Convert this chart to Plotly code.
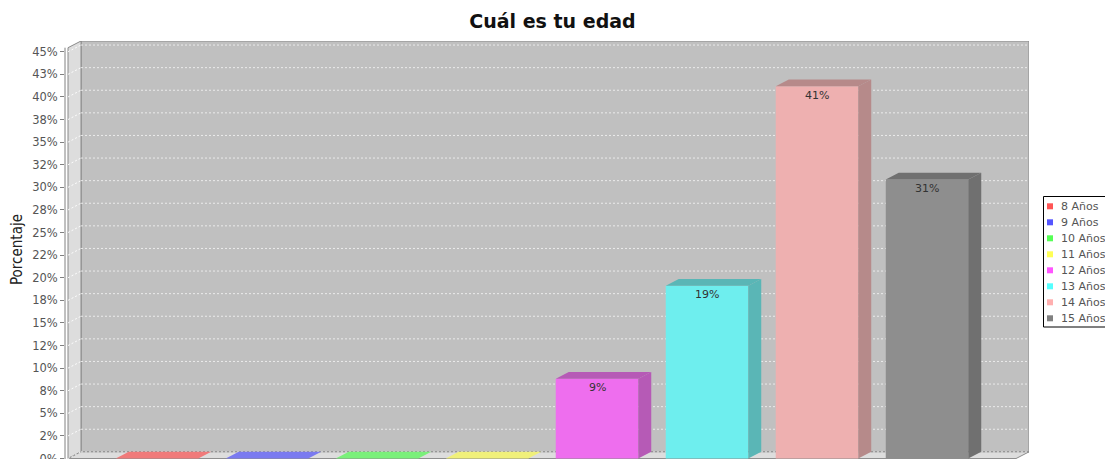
import plotly.graph_objects as go

# ---------------- data ----------------
categories = ["8 Años", "9 Años", "10 Años", "11 Años", "12 Años", "13 Años", "14 Años", "15 Años"]
percentages = [0, 0, 0, 0, 8.82, 19.12, 41.18, 30.88]
tick_values = [0, 2.5, 5, 7.5, 10, 12.5, 15, 17.5, 20, 22.5, 25, 27.5, 30, 32.5, 35, 37.5, 40, 42.5, 45]
tick_labels = ["0%", "2%", "5%", "8%", "10%", "12%", "15%", "18%", "20%", "22%", "25%",
               "28%", "30%", "32%", "35%", "38%", "40%", "43%", "45%"]
front_colors = ["#f07a7a", "#7a7af0", "#7af07a", "#f0f07a", "#ee6eee", "#6eeeee", "#eeb0b0", "#8e8e8e"]
dark_colors = ["#c46262", "#6262c4", "#62c462", "#c4c462", "#b65ab6", "#5ab6b6", "#b68a8a", "#707070"]
legend_colors = ["#ff5555", "#5555ff", "#55ff55", "#ffff55", "#ff55ff", "#55ffff", "#ffafaf", "#808080"]

# ---------------- geometry (pixels) ----------------
FIG_W, FIG_H = 1105, 459
L, R, T, B = 65, 1029, 41, 459    # plot box in pixels
PX_PER_CAT = 110.0
FIRST_CENTER_PX = 157.0
PX_PER_PCT = 9.04
DX_PX, DY_PX = 13.0, 6.7

x_range = [(L - FIRST_CENTER_PX) / PX_PER_CAT, (R - FIRST_CENTER_PX) / PX_PER_CAT]
y_range = [-0.05, (B - T) / PX_PER_PCT - 0.05]
dx = DX_PX / PX_PER_CAT
dy = DY_PX / PX_PER_PCT
xL = (68 - FIRST_CENTER_PX) / PX_PER_CAT   # front-left edge of 3D area
xR = x_range[1]
y_top = y_range[1]
bar_w = 0.75

def px_to_paper_x(px):
    return (px - L) / (R - L)

def px_to_paper_y(py):
    return (B - py) / (B - T)

fig = go.Figure()
shapes = []
WALL = "#dddddd"
EDGE = "#8a8a8a"

# back wall
shapes.append(dict(type="rect", xref="x", yref="y", x0=xL + dx, y0=dy, x1=xR, y1=y_top,
                   fillcolor="#c0c0c0", line=dict(color=EDGE, width=1), layer="below"))
# side wall
shapes.append(dict(type="path", xref="x", yref="y",
                   path=f"M{xL},0 L{xL+dx},{dy} L{xL+dx},{y_top} L{xL},{y_top-dy} Z",
                   fillcolor=WALL, line=dict(color=EDGE, width=1), layer="below"))
# floor
shapes.append(dict(type="path", xref="x", yref="y",
                   path=f"M{xL},0 L{xL+dx},{dy} L{xR},{dy} L{xR-dx},0 Z",
                   fillcolor=WALL, line=dict(color=EDGE, width=1), layer="below"))
# gridlines
for t in tick_values:
    shapes.append(dict(type="line", xref="x", yref="y", x0=xL + dx, y0=t + dy, x1=xR, y1=t + dy,
                       line=dict(color="rgba(240,240,240,0.9)", width=1, dash="2px,2px"), layer="below"))
    shapes.append(dict(type="line", xref="x", yref="y", x0=xL, y0=t, x1=xL + dx, y1=t + dy,
                       line=dict(color="rgba(255,255,255,0.9)", width=1, dash="2px,2px"), layer="below"))
# y axis line (front)
shapes.append(dict(type="line", xref="paper", yref="y", x0=0, y0=y_range[0], x1=0, y1=y_top - dy,
                   line=dict(color="#808080", width=1)))

# bars: front faces
xs = list(range(len(categories)))
fig.add_trace(go.Bar(x=xs, y=percentages, width=bar_w, marker=dict(color=front_colors, line=dict(width=0)),
                     hoverinfo="skip", showlegend=False))

# bars: top & side faces
for i, v in enumerate(percentages):
    x0 = i - bar_w / 2
    x1 = i + bar_w / 2
    top_color = front_colors[i] if v == 0 else dark_colors[i]
    fig.add_trace(go.Scatter(x=[x0, x1, x1 + dx, x0 + dx, x0], y=[v, v, v + dy, v + dy, v],
                             fill="toself", fillcolor=top_color, mode="lines", line=dict(width=0),
                             hoverinfo="skip", showlegend=False))
    if v > 0:
        fig.add_trace(go.Scatter(x=[x1, x1 + dx, x1 + dx, x1, x1], y=[0, dy, v + dy, v, 0],
                                 fill="toself", fillcolor=dark_colors[i], mode="lines", line=dict(width=0),
                                 hoverinfo="skip", showlegend=False))

annotations = []
# value labels
for i, v in enumerate(percentages):
    if v > 0:
        annotations.append(dict(x=i, y=v, xref="x", yref="y", text=f"{round(v)}%", showarrow=False,
                                yshift=-9, font=dict(family="DejaVu Sans", size=11, color="#333333")))

# manual legend
shapes.append(dict(type="rect", xref="paper", yref="paper",
                   x0=px_to_paper_x(1043.5), x1=px_to_paper_x(1115),
                   y0=px_to_paper_y(327), y1=px_to_paper_y(196.5),
                   fillcolor="white", line=dict(color="black", width=1)))
for i, (name, col) in enumerate(zip(categories, legend_colors)):
    cy = 206.3 + 16.0 * i
    shapes.append(dict(type="rect", xref="paper", yref="paper",
                       x0=px_to_paper_x(1047), x1=px_to_paper_x(1053),
                       y0=px_to_paper_y(cy + 3), y1=px_to_paper_y(cy - 3),
                       fillcolor=col, line=dict(width=0)))
    annotations.append(dict(x=px_to_paper_x(1059), y=px_to_paper_y(cy), xref="paper", yref="paper",
                            text=name, showarrow=False, xanchor="left", yanchor="middle",
                            font=dict(family="DejaVu Sans", size=11, color="#555555")))

# y axis title
annotations.append(dict(x=px_to_paper_x(17), y=px_to_paper_y(250), xref="paper", yref="paper",
                        text="Porcentaje", textangle=-90, showarrow=False,
                        xanchor="center", yanchor="middle",
                        font=dict(family="DejaVu Sans Condensed", size=15, color="#222222")))

fig.update_layout(
    width=FIG_W, height=FIG_H,
    margin=dict(l=L, r=FIG_W - R, t=T, b=FIG_H - B, autoexpand=False),
    paper_bgcolor="white", plot_bgcolor="rgba(0,0,0,0)",
    title=dict(text="<b>Cuál es tu edad</b>", x=0.5, xanchor="center",
               y=1 - 21 / FIG_H, yanchor="middle", yref="container",
               font=dict(family="DejaVu Sans", size=19, color="#111111")),
    xaxis=dict(range=x_range, showgrid=False, zeroline=False, showticklabels=False, showline=False,
               ticks="", automargin=False),
    yaxis=dict(range=y_range, showgrid=False, zeroline=False, showline=False, automargin=False,
               tickmode="array", tickvals=tick_values, ticktext=tick_labels,
               ticks="outside", ticklen=4, tickcolor="#808080", ticklabeloverflow="allow",
               tickfont=dict(family="DejaVu Sans", size=11.5, color="#555555")),
    shapes=shapes, annotations=annotations, showlegend=False,
)

# remove the default page margin so the figure fills the window exactly
fig.write_html("out.html", config={"displayModeBar": False},
               post_script="document.body.style.margin='0';document.body.style.overflow='hidden';")
